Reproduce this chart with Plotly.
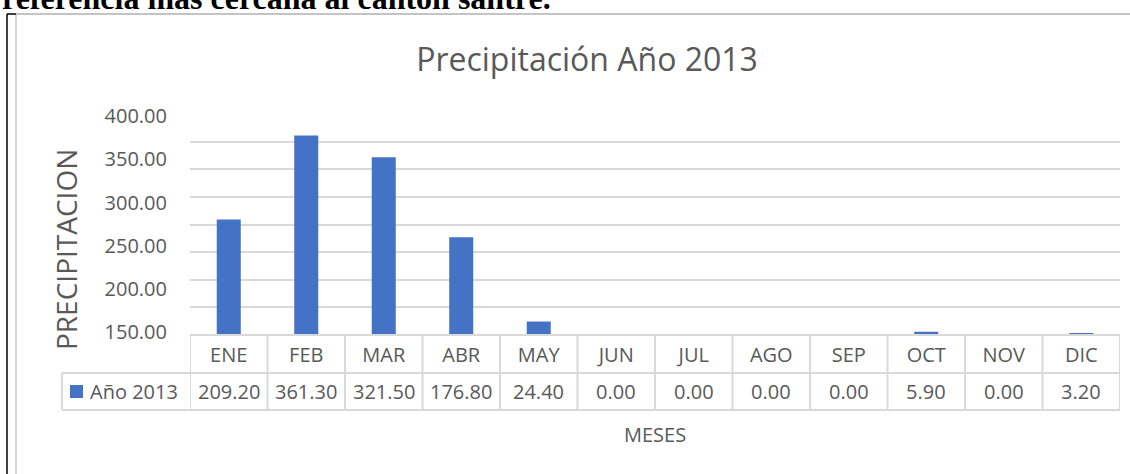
import plotly.graph_objects as go

# datos
meses = ["ENE", "FEB", "MAR", "ABR", "MAY", "JUN", "JUL", "AGO", "SEP", "OCT", "NOV", "DIC"]
precip_2013 = [209.20, 361.30, 321.50, 176.80, 24.40, 0.00, 0.00, 0.00, 0.00, 5.90, 0.00, 3.20]
serie = "Año 2013"
y_ticks = [150, 200, 250, 300, 350, 400]

azul = "#4472c4"
gris_txt = "#595959"
gris_lin = "#d9d9d9"
fuente = "Open Sans"

W, H = 1130, 474
ML, MR, MT, MB = 190, 10, 114, 139
pw, ph = W - ML - MR, H - MT - MB


# pixeles -> coordenadas paper
def px(x):
    return (x - ML) / pw


def py(y):
    return (H - MB - y) / ph


fig = go.Figure()
fig.add_trace(go.Bar(x=meses, y=precip_2013, name=serie, marker_color=azul,
                     marker_line_width=0, width=0.31, showlegend=False))
# traza vacia para que se dibuje el eje de etiquetas
fig.add_trace(go.Scatter(x=meses[:1], y=[None], yaxis="y2", showlegend=False, hoverinfo="skip"))

shapes = []
# tabla de datos
fila1, fila2 = py(373), py(410)
shapes.append(dict(type="line", xref="paper", yref="paper", x0=0, x1=1, y0=0, y1=0,
                   line=dict(color=gris_lin, width=2)))
for yy in [fila1, fila2]:
    shapes.append(dict(type="line", xref="paper", yref="paper", x0=px(62), x1=1, y0=yy, y1=yy,
                       line=dict(color=gris_lin, width=2)))
shapes.append(dict(type="line", xref="paper", yref="paper", x0=px(62), x1=px(62), y0=fila1, y1=fila2,
                   line=dict(color=gris_lin, width=2)))
for i in range(len(meses) + 1):
    shapes.append(dict(type="line", xref="x", yref="paper", x0=i - 0.5, x1=i - 0.5, y0=0, y1=fila2,
                       line=dict(color=gris_lin, width=2)))
# clave de leyenda
shapes.append(dict(type="rect", xref="paper", yref="paper", x0=px(70), x1=px(83), y0=py(385), y1=py(398),
                   fillcolor=azul, line_width=0))
# marco del grafico
shapes.append(dict(type="line", xref="paper", yref="paper", x0=px(16), x1=px(W + 5), y0=py(14), y1=py(14),
                   line=dict(color="#c4c4c4", width=2)))
shapes.append(dict(type="line", xref="paper", yref="paper", x0=px(16), x1=px(16), y0=py(14), y1=py(H + 5),
                   line=dict(color="#d4d4d4", width=2)))
shapes.append(dict(type="line", xref="paper", yref="paper", x0=px(7), x1=px(7), y0=py(14), y1=py(H + 5),
                   line=dict(color="#000000", width=1.5)))
shapes.append(dict(type="line", xref="paper", yref="paper", x0=px(7), x1=px(16), y0=py(14), y1=py(14),
                   line=dict(color="#000000", width=1.5)))

annotations = []
for m, v in zip(meses, precip_2013):
    annotations.append(dict(x=m, y=py(391), xref="x", yref="paper", text=f"{v:.2f}",
                            xanchor="center", yanchor="middle", showarrow=False,
                            font=dict(family=fuente, size=20, color=gris_txt)))
annotations.append(dict(x=px(88), y=py(391), xref="paper", yref="paper", text=serie,
                        xanchor="left", yanchor="middle", showarrow=False,
                        font=dict(family=fuente, size=20, color=gris_txt)))
annotations.append(dict(x=px(66), y=py(250), xref="paper", yref="paper", text="PRECIPITACION",
                        xanchor="center", yanchor="middle", textangle=-90, showarrow=False,
                        font=dict(family=fuente, size=28, color=gris_txt)))
annotations.append(dict(x=0.5, y=py(434), xref="paper", yref="paper", text="MESES",
                        xanchor="center", yanchor="middle", showarrow=False,
                        font=dict(family=fuente, size=20, color=gris_txt)))
annotations.append(dict(x=px(0), y=py(-2), xref="paper", yref="paper", xanchor="left", yanchor="middle",
                        text="<b>referencia más cercana al cantón santre.</b>", showarrow=False,
                        font=dict(family="Liberation Serif", size=32, color="#000000")))

fig.update_layout(
    width=W, height=H,
    margin=dict(l=ML, r=MR, t=MT, b=MB, pad=0),
    paper_bgcolor="white", plot_bgcolor="white",
    title=dict(text="Precipitación Año 2013", x=587 / W, xref="container", xanchor="center",
               y=1 - 60 / H, yref="container", yanchor="middle",
               font=dict(family=fuente, size=32, color=gris_txt)),
    xaxis=dict(range=[-0.5, len(meses) - 0.5], showgrid=False, zeroline=False, showline=False,
               ticks="", automargin=False, ticklabelstandoff=6,
               tickfont=dict(family=fuente, size=20, color=gris_txt)),
    yaxis=dict(range=[0, 400], dtick=50, showticklabels=False, showgrid=True, automargin=False,
               gridcolor=gris_lin, gridwidth=2, zeroline=False),
    yaxis2=dict(overlaying="y", side="left", range=[147.1, 402.3], tickvals=y_ticks,
                ticktext=[f"{t:.2f}" for t in y_ticks], showgrid=False, zeroline=False,
                showline=False, ticks="", ticklabelstandoff=22, automargin=False,
                tickfont=dict(family=fuente, size=20, color=gris_txt)),
    shapes=shapes,
    annotations=annotations,
)

fig.write_html("out.html", config={"displayModeBar": False},
               post_script="document.body.style.margin='0px';")
